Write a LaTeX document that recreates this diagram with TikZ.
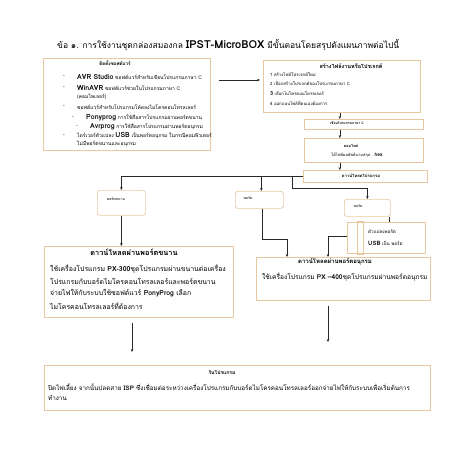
\documentclass[tikz,border=0pt]{standalone}
\usepackage{fontspec}
\setmainfont[Script=Thai]{Loma}
\usetikzlibrary{arrows.meta,calc}
\definecolor{boxc}{RGB}{232,200,160}
\definecolor{linec}{RGB}{40,40,40}
\tikzset{
  bx/.style={draw=boxc, line width=0.7pt, inner sep=0pt, anchor=north west},
  rbx/.style={bx, rounded corners=2.5pt},
  arr/.style={draw=linec, line width=0.6pt, -{Stealth[length=3pt,width=2.6pt]}},
  ln/.style={draw=linec, line width=0.6pt},
  tx/.style={anchor=west, inner sep=0pt, text=black},
  tc/.style={anchor=center, inner sep=0pt, text=black},
  sa/.style={font=\fontsize{5}{6}\selectfont},
  sab/.style={font=\fontsize{4.3}{5}\selectfont},
  sh/.style={font=\bfseries\fontsize{4.6}{5.5}\selectfont},
  sb/.style={font=\fontsize{6.9}{8}\selectfont},
}
\newcommand{\lat}[1]{{\bfseries\fontsize{7}{8}\selectfont #1}}
\begin{document}
\begin{tikzpicture}[x=1pt,y=-1pt]
\useasboundingbox[fill=white] (0,0) rectangle (453,453);
% title
\node[tx,font=\fontsize{8.5}{10}\selectfont] (title) at (57,45) {ข้อ ๑. การใช้งานชุดกล่องสมองกล {\bfseries\fontsize{11}{12}\selectfont IPST-MicroBOX} มีขั้นตอนโดยสรุปดังแผนภาพต่อไปนี้};
% boxes
\node[bx,minimum width=167pt,minimum height=92pt] (A) at (43,58) {};
\node[bx,minimum width=157pt,minimum height=52pt] (B) at (263,60) {};
\node[bx,minimum width=119pt,minimum height=10pt] (C) at (304,119) {};
\node[bx,minimum width=119pt,minimum height=24pt] (D) at (304,138) {};
\node[bx,minimum width=124pt,minimum height=12pt] (E) at (303,170) {};
\node[rbx,minimum width=48pt,minimum height=25pt] (P1) at (97,190) {};
\node[rbx,minimum width=48pt,minimum height=17pt] (P2) at (235,191) {};
\node[rbx,minimum width=46pt,minimum height=17pt] (P3) at (344,199) {};
\node[bx,minimum width=78pt,minimum height=31pt] (U) at (347,222) {};
\node[bx,minimum width=6pt,minimum height=33pt] (Us) at (357,221) {};
\node[bx,minimum width=189pt,minimum height=71pt] (F) at (44,246) {};
\node[bx,minimum width=174pt,minimum height=43pt] (G) at (256,257) {};
\node[bx,minimum width=386pt,minimum height=45pt] (H) at (44,365) {};
% box A text
\node[tc,sh] (a0) at (115,63) {ติดตั้งซอฟต์แวร์};
\node[tx,sa] (a1b) at (63,77) {-};
\node[tx,sa] (a1) at (77,77) {\lat{AVR Studio} ซอฟต์แวร์สำหรับเขียนโปรแกรมภาษา C};
\node[tx,sa] (a2b) at (63,88) {-};
\node[tx,sa] (a2) at (77,88) {\lat{WinAVR} ซอฟต์แวร์ช่วยในโปรแกรมภาษา C};
\node[tx,sa] (a2c) at (77,97) {(คอมไพเลอร์)};
\node[tx,sa] (a3b) at (63,107) {-};
\node[tx,sa] (a3) at (77,107) {ซอฟต์แวร์สำหรับโปรแกรมโค้ดลงไมโครคอนโทรลเลอร์};
\node[tx,sa] (a4b) at (72,118) {-};
\node[tx,sa] (a4) at (86,118) {\lat{Ponyprog} การใช้สื่อสารโปรแกรมผ่านพอร์ตขนาน};
\node[tx,sa] (a5b) at (76,127) {-};
\node[tx,sa] (a5) at (90,127) {\lat{Avrprog} การใช้สื่อสารโปรแกรมผ่านพอร์ตอนุกรม};
\node[tx,sa] (a6b) at (63,136) {-};
\node[tx,sa] (a6) at (77,136) {ไดร์เวอร์ตัวแปลง \lat{USB} เป็นพอร์ตอนุกรม ในกรณีคอมพิวเตอร์};
\node[tx,sa] (a6c) at (77,144) {ไม่มีพอร์ตขนานและอนุกรม};
% box B text
\node[tc,font=\bfseries\fontsize{5.5}{6.5}\selectfont] (b0) at (351,66) {สร้างไฟล์งานหรือโปรเจกต์};
\node[tx,font=\fontsize{4.3}{5}\selectfont] (b1) at (270,75) {1 สร้างไฟล์โปรเจกต์ใหม่};
\node[tx,font=\fontsize{4.3}{5}\selectfont] (b2) at (270,84) {2 เลือกสร้างโปรเจกต์ของโปรแกรมภาษา C};
\node[tx,font=\fontsize{4.3}{5}\selectfont] (b3) at (270,94) {{\bfseries\fontsize{5.5}{6}\selectfont 3} เลือกไมโครคอนโทรลเลอร์};
\node[tx,font=\fontsize{4.3}{5}\selectfont] (b4) at (270,103) {4 ออกแบบไฟล์ที่ตนเองต้องการ};
% C D E
\node[tc,font=\bfseries\fontsize{3.4}{4}\selectfont] (c0) at (347,123.5) {เขียนโปรแกรมภาษา C};
\node[tc,sh,font=\bfseries\fontsize{3.8}{4.5}\selectfont] (d0) at (351,146) {คอมไพล์};
\node[tc,font=\fontsize{4}{5}\selectfont] (d1) at (357,155) {ได้ไฟล์ผลลัพธ์นามสกุล . {\bfseries\fontsize{5}{6}\selectfont hex}};
\node[tc,font=\bfseries\fontsize{4.2}{5}\selectfont] (e0) at (361,176) {ดาวน์โหลดโปรแกรม};
% ports
\node[tc,font=\fontsize{3.6}{4.5}\selectfont] (p1) at (116,199) {พอร์ตขนาน};
\node[tc,font=\fontsize{3.6}{4.5}\selectfont] (p2) at (248,198) {พอร์ต};
\node[tc,font=\fontsize{3.6}{4.5}\selectfont] (p3) at (358,206) {พอร์ต};
\node[tx,font=\fontsize{4.6}{5.5}\selectfont] (u1) at (368,231) {ตัวแปลงพอร์ต};
\node[tx,font=\fontsize{4.6}{5.5}\selectfont] (u2) at (368,243) {{\bfseries\fontsize{6}{7}\selectfont USB} เป็น พอร์ต};
% F
\node[tc,font=\bfseries\fontsize{7.4}{8.5}\selectfont] (f0) at (134,252) {ดาวน์โหลดผ่านพอร์ตขนาน};
\node[tx,sb] (f1) at (50,269) {ใช้เครื่องโปรแกรม {\bfseries PX-300}ชุดโปรแกรมผ่านขนานต่อเครื่อง};
\node[tx,sb] (f2) at (50,281) {โปรแกรมกับบอร์ดไมโครคอนโทรลเลอร์และพอร์ตขนาน};
\node[tx,sb] (f3) at (50,293) {จ่ายไฟให้กับระบบใช้ซอฟต์แวร์ {\bfseries PonyProg} เลือก};
\node[tx,sb] (f4) at (50,306) {ไมโครคอนโทรลเลอร์ที่ต้องการ};
% G
\node[tc,font=\bfseries\fontsize{6}{7}\selectfont] (g0) at (335,262) {ดาวน์โหลดผ่านพอร์ตอนุกรม};
\node[tx,font=\fontsize{6.6}{8}\selectfont] (g1) at (262,277) {ใช้เครื่องโปรแกรม {\bfseries PX –400}ชุดโปรแกรมผ่านพอร์ตอนุกรม};
% H
\node[tc,font=\bfseries\fontsize{5}{6}\selectfont] (h0) at (222,372) {รันโปรแกรม};
\node[tx,font=\fontsize{6.3}{7.5}\selectfont] (h1) at (48,387) {ปิดไฟเลี้ยง จากนั้นปลดสาย {\bfseries ISP} ซึ่งเชื่อมต่อระหว่างเครื่องโปรแกรมกับบอร์ดไมโครคอนโทรลเลอร์ออกจ่ายไฟให้กับระบบเพื่อเริ่มต้นการ};
\node[tx,font=\fontsize{6.3}{7.5}\selectfont] (h2) at (48,398) {ทำงาน};
% connectors
\draw[arr] ([shift={(8,22)}]A.north east) -- ([shift={(-3,20)}]B.north west);
\draw[arr] ([xshift=-2pt]B.south) -- ([xshift=-2pt]B.south |- C.north);
\draw[arr] ([xshift=-2pt]B.south |- C.south) -- ([xshift=-2pt]B.south |- D.north);
\draw[arr] ([xshift=-2pt]B.south |- D.south) -- ([xshift=-2pt]B.south |- E.north);
\draw[arr] (E.west) -| (P1.north);
\draw[arr] ([xshift=2pt]P2.north |- E.west) -- ([xshift=2pt]P2.north);
\coordinate (j1) at ($(E.west)+(-11,0)$);
\draw[arr] (j1) -- ++(0,12) -| (P3.north);
\draw[arr] (P1.south) -- (P1.south |- F.north);
\draw[arr] ([xshift=3pt]P2.south) -- ++(0,31) -| ([xshift=31pt]G.north west);
\draw[arr] ([yshift=-14pt]U.north west) -| ([xshift=72pt]G.north west);
\draw[ln] ([xshift=-1pt]P3.south east) -- ([xshift=-1pt]P3.south east |- U.north);
\draw[arr] ([shift={(88,5)}]F.south west) -- ([shift={(88,-13)}]H.north west);
\draw[arr] ([shift={(72,5)}]G.south west) -- ([shift={(284,-23)}]H.north west);
\end{tikzpicture}
\end{document}
